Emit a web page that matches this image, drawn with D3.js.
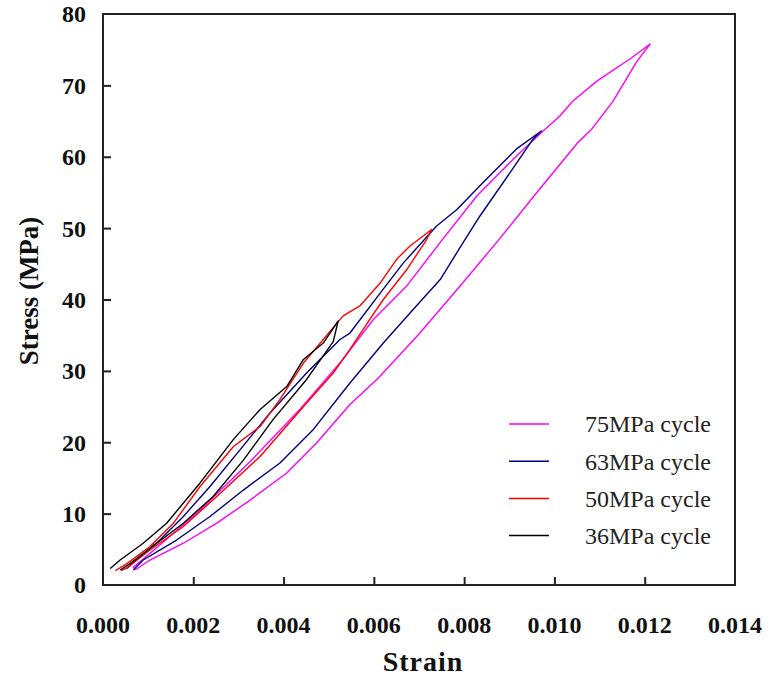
<!DOCTYPE html>
<html>
<head>
<meta charset="utf-8">
<script src="https://cdn.jsdelivr.net/npm/d3@7"></script>
<style>
  body { margin: 0; background: #fff; }
  svg { display: block; }
</style>
</head>
<body>
<div id="chart"></div>
<script>
// values, [strain, stress MPa]
const cycleNames = ["75MPa cycle", "63MPa cycle", "50MPa cycle", "36MPa cycle"];
const cycleColors = ["#ff00ff", "#000080", "#ff0000", "#000000"];

const loop75 = [
  [0.00071, 2.1], [0.00104, 3.5], [0.00178, 5.85], [0.00252, 8.66], [0.00326, 11.9],
  [0.00407, 15.7], [0.00473, 19.9], [0.00547, 25.3], [0.0061, 29.0], [0.00702, 35.3],
  [0.00791, 41.9], [0.00872, 48.0], [0.00961, 55.0], [0.01052, 62.0], [0.01083, 63.9],
  [0.0113, 67.8], [0.01182, 73.3], [0.01212, 75.8],
  [0.01167, 73.7], [0.01094, 70.6], [0.01041, 67.8], [0.01012, 65.7], [0.00975, 63.6],
  [0.00916, 60.1], [0.00828, 54.5], [0.00747, 48.0], [0.00673, 41.9], [0.00599, 37.2],
  [0.00530, 31.5], [0.00436, 24.6], [0.00326, 17.3], [0.00215, 10.5], [0.00126, 5.6],
  [0.00066, 2.4]
];
const loop63 = [
  [0.00067, 2.1], [0.00089, 3.5], [0.00163, 6.3], [0.00237, 9.6], [0.00311, 13.3],
  [0.00392, 17.1], [0.00466, 21.8], [0.00547, 28.3], [0.00621, 33.9], [0.00687, 38.6],
  [0.00747, 42.8], [0.00798, 48.0], [0.00835, 51.7], [0.00902, 57.8], [0.00953, 62.5],
  [0.00971, 63.6],
  [0.00916, 61.1], [0.00842, 56.4], [0.00784, 52.6], [0.00739, 50.3], [0.00665, 45.1],
  [0.00614, 40.9], [0.00547, 35.3], [0.00525, 34.4], [0.00451, 29.7], [0.0037, 24.1],
  [0.00303, 18.9], [0.00237, 13.8], [0.00178, 9.6], [0.00126, 6.3], [0.00082, 4.0],
  [0.00053, 2.3]
];
const loop50 = [
  [0.0004, 2.0], [0.00053, 2.4], [0.00104, 4.9], [0.00178, 8.2], [0.00252, 12.4],
  [0.00348, 18.0], [0.00451, 25.5], [0.0051, 29.7], [0.00547, 33.0], [0.00591, 37.2],
  [0.00621, 40.0], [0.00673, 44.2], [0.00717, 48.4], [0.00728, 49.8],
  [0.0068, 47.5], [0.0065, 45.6], [0.00614, 42.3], [0.00569, 39.1], [0.00532, 37.7],
  [0.00444, 31.1], [0.00392, 26.0], [0.00348, 22.2], [0.00289, 19.4], [0.00215, 13.8],
  [0.00156, 8.66], [0.00104, 5.4], [0.00053, 3.0], [0.00027, 2.0]
];
const loop36 = [
  [0.00038, 2.1], [0.0006, 3.0], [0.00119, 5.85], [0.00178, 8.66], [0.00244, 12.4],
  [0.00311, 17.5], [0.00377, 23.2], [0.00451, 28.8], [0.0051, 34.1], [0.00521, 37.0],
  [0.00488, 33.9], [0.00444, 31.6], [0.00407, 27.8], [0.00348, 24.6], [0.00289, 20.4],
  [0.00215, 14.3], [0.00141, 8.66], [0.00089, 5.85], [0.00038, 3.5], [0.00016, 2.3]
];
const loops = [loop75, loop63, loop50, loop36];

const xTicks = [0, 0.002, 0.004, 0.006, 0.008, 0.010, 0.012, 0.014];
const yTicks = [0, 10, 20, 30, 40, 50, 60, 70, 80];

const width = 771, height = 677;
const margin = {left: 103, right: 36, top: 14, bottom: 92};

const svg = d3.select("#chart").append("svg")
    .attr("width", width)
    .attr("height", height);

const x = d3.scaleLinear().domain([0, 0.014]).range([margin.left, width - margin.right]);
const y = d3.scaleLinear().domain([0, 80]).range([height - margin.bottom, margin.top]);

const serif = "'Times New Roman', Times, 'Liberation Serif', Tinos, serif";

// plot frame
svg.append("rect")
    .attr("x", x(0))
    .attr("y", y(80))
    .attr("width", x(0.014) - x(0))
    .attr("height", y(0) - y(80))
    .attr("fill", "none")
    .attr("stroke", "#222")
    .attr("stroke-width", 2);

// ticks point inward, labels are drawn separately
const xAxis = svg.append("g")
    .attr("transform", "translate(0," + y(0) + ")")
    .call(d3.axisTop(x).tickValues(xTicks.slice(1, -1)).tickSize(8).tickFormat(""));
xAxis.select(".domain").remove();
xAxis.selectAll("line").attr("stroke", "#222").attr("stroke-width", 2);

const yAxis = svg.append("g")
    .attr("transform", "translate(" + x(0) + ",0)")
    .call(d3.axisRight(y).tickValues(yTicks.slice(1, -1)).tickSize(8).tickFormat(""));
yAxis.select(".domain").remove();
yAxis.selectAll("line").attr("stroke", "#222").attr("stroke-width", 2);

svg.append("g").selectAll("text")
    .data(xTicks)
    .join("text")
    .attr("x", d => x(d))
    .attr("y", 633)
    .attr("text-anchor", "middle")
    .attr("font-family", serif)
    .attr("font-weight", "bold")
    .attr("font-size", 24)
    .attr("fill", "#111")
    .text(d3.format(".3f"));

svg.append("g").selectAll("text")
    .data(yTicks)
    .join("text")
    .attr("x", 86)
    .attr("y", d => y(d))
    .attr("dy", "0.35em")
    .attr("text-anchor", "end")
    .attr("font-family", serif)
    .attr("font-weight", "bold")
    .attr("font-size", 24)
    .attr("fill", "#111")
    .text(d => d);

// axis titles
svg.append("text")
    .attr("x", 423)
    .attr("y", 671)
    .attr("text-anchor", "middle")
    .attr("font-family", serif)
    .attr("font-weight", "bold")
    .attr("font-size", 28)
    .attr("letter-spacing", 1)
    .attr("fill", "#111")
    .text("Strain");

svg.append("text")
    .attr("transform", "translate(38,291) rotate(-90)")
    .attr("text-anchor", "middle")
    .attr("font-family", serif)
    .attr("font-weight", "bold")
    .attr("font-size", 27)
    .attr("fill", "#111")
    .text("Stress (MPa)");

// hysteresis loops
const line = d3.line()
    .x(d => x(d[0]))
    .y(d => y(d[1]));

svg.append("g").selectAll("path")
    .data(loops)
    .join("path")
    .attr("d", line)
    .attr("fill", "none")
    .attr("stroke", (d, i) => cycleColors[i])
    .attr("stroke-width", 1.4)
    .attr("stroke-linejoin", "round");

// legend
const legend = svg.append("g")
    .attr("transform", "translate(509,424)");

const rows = legend.selectAll("g")
    .data(cycleNames)
    .join("g")
    .attr("transform", (d, i) => "translate(0," + i * 37.2 + ")");

rows.append("line")
    .attr("x1", 0)
    .attr("x2", 40)
    .attr("stroke", (d, i) => cycleColors[i])
    .attr("stroke-width", 1.5);

rows.append("text")
    .attr("x", 76)
    .attr("dy", "0.35em")
    .attr("font-family", serif)
    .attr("font-size", 24)
    .attr("fill", "#222")
    .text(d => d);
</script>
</body>
</html>
